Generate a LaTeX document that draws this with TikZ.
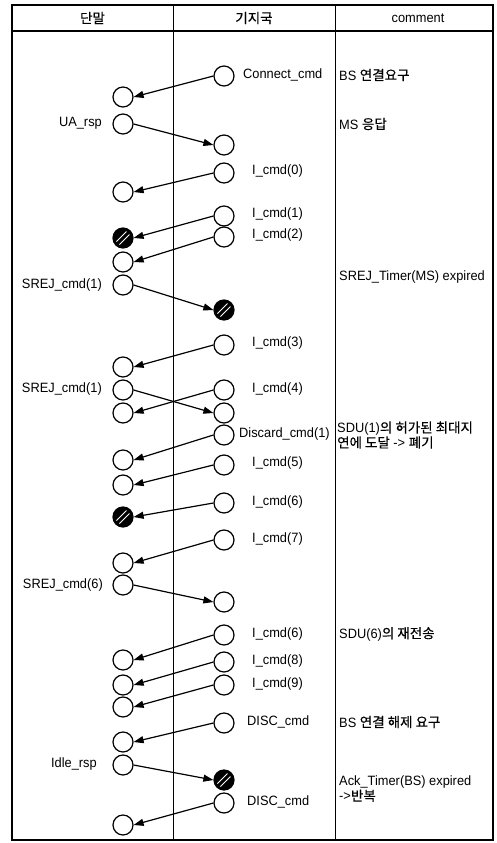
\documentclass[tikz,border=0pt]{standalone}
\usepackage{fontspec}
\setmainfont{Liberation Sans}[FakeStretch=0.95]
\newfontfamily\kr{Noto Sans CJK KR}[FakeBold=0.3]
\usetikzlibrary{arrows.meta}
\begin{document}
\begin{tikzpicture}[x=1pt,y=-1pt,
  stnode/.style={circle,draw,line width=1.2pt,minimum size=20pt,inner sep=0pt},
  lostnode/.style={stnode,fill=black,path picture={
     \draw[white,line width=0.9pt] ([shift={(-6.5,3.5)}]path picture bounding box.center) -- ++(10,-10);
     \draw[white,line width=0.9pt] ([shift={(-3.5,6.5)}]path picture bounding box.center) -- ++(10,-10);}},
  msgline/.style={line width=1.2pt,-{Triangle[length=10pt,width=7pt]}},
  txtnode/.style={inner sep=0pt,font=\fontsize{13.5}{15}\selectfont},
  rlab/.style={txtnode,anchor=west},
  llab/.style={txtnode,anchor=east},
  cmtnode/.style={txtnode,anchor=west,align=left},
  frameline/.style={line width=1.1pt}]
\fill[white] (0,0) rectangle (497,843);
\useasboundingbox (0,0) rectangle (497,843);
% table
\draw[frameline] (12,5) rectangle (493,840);
\draw[frameline] (12,31) -- (493,31);
\draw[line width=1pt] (173,5) -- (173,840);
\draw[line width=1pt] (335,5) -- (335,840);
\node[txtnode] (h1) at (92.5,18) {\kr 단말};
\node[txtnode] (h2) at (254,18) {\kr 기지국};
\node[txtnode] (h3) at (418,18) {comment};
% left column states
\node[stnode] (L1) at (123,97) {};
\node[stnode] (L2) at (123,124) {};
\node[stnode] (L3) at (123,192) {};
\node[lostnode] (L4) at (123,238) {};
\node[stnode] (L5) at (123,262) {};
\node[stnode] (L6) at (123,285) {};
\node[stnode] (L7) at (123,367) {};
\node[stnode] (L8) at (123,390) {};
\node[stnode] (L9) at (123,413) {};
\node[stnode] (L10) at (123,460) {};
\node[stnode] (L11) at (123,485) {};
\node[lostnode] (L12) at (123,517) {};
\node[stnode] (L13) at (123,563) {};
\node[stnode] (L14) at (123,585) {};
\node[stnode] (L15) at (123,660) {};
\node[stnode] (L16) at (123,685) {};
\node[stnode] (L17) at (123,707) {};
\node[stnode] (L18) at (123,742) {};
\node[stnode] (L19) at (123,765) {};
\node[stnode] (L20) at (123,825) {};
% right column states
\node[stnode] (R1) at (224,76) {};
\node[stnode] (R2) at (224,145) {};
\node[stnode] (R3) at (224,173) {};
\node[stnode] (R4) at (224,216) {};
\node[stnode] (R5) at (224,237) {};
\node[lostnode] (R6) at (224,310) {};
\node[stnode] (R7) at (224,345) {};
\node[stnode] (R8) at (224,390) {};
\node[stnode] (R9) at (224,413) {};
\node[stnode] (R10) at (224,435) {};
\node[stnode] (R11) at (224,465) {};
\node[stnode] (R12) at (224,503) {};
\node[stnode] (R13) at (224,540) {};
\node[stnode] (R14) at (224,602) {};
\node[stnode] (R15) at (224,635) {};
\node[stnode] (R16) at (224,662) {};
\node[stnode] (R17) at (224,685) {};
\node[stnode] (R18) at (224,723) {};
\node[lostnode] (R19) at (224,780) {};
\node[stnode] (R20) at (224,803) {};
% right labels
\node[rlab] (t1) at (243,75) {Connect\_cmd};
\node[rlab] (t3) at (252,171) {I\_cmd(0)};
\node[rlab] (t4) at (252,214) {I\_cmd(1)};
\node[rlab] (t5) at (252,235) {I\_cmd(2)};
\node[rlab] (t7) at (252,343) {I\_cmd(3)};
\node[rlab] (t8) at (252,389) {I\_cmd(4)};
\node[rlab] (t10) at (239,434) {Discard\_cmd(1)};
\node[rlab] (t11) at (252,463) {I\_cmd(5)};
\node[rlab] (t12) at (252,502) {I\_cmd(6)};
\node[rlab] (t13) at (252,539) {I\_cmd(7)};
\node[rlab] (t15) at (252,634) {I\_cmd(6)};
\node[rlab] (t16) at (252,661) {I\_cmd(8)};
\node[rlab] (t17) at (252,684) {I\_cmd(9)};
\node[rlab] (t18) at (247,722) {DISC\_cmd};
\node[rlab] (t20) at (247,802) {DISC\_cmd};
% left labels
\node[llab] (u2) at (102,123) {UA\_rsp};
\node[llab] (u6) at (102,285) {SREJ\_cmd(1)};
\node[llab] (u8) at (102,389) {SREJ\_cmd(1)};
\node[llab] (u14) at (103,585) {SREJ\_cmd(6)};
\node[llab] (u19) at (97,764) {Idle\_rsp};
% comments
\node[cmtnode] (c1) at (339,75) {BS {\kr 연결요구}};
\node[cmtnode] (c2) at (339,124) {MS {\kr 응답}};
\node[cmtnode] (c3) at (339,277) {SREJ\_Timer(MS) expired};
\node[cmtnode] (c4) at (337,435) {SDU(1){\kr 의 허가된 최대지}\\{\kr 연에 도달} -> {\kr 폐기}};
\node[cmtnode] (c5) at (339,634) {SDU(6){\kr 의 재전송}};
\node[cmtnode] (c6) at (339,722) {BS {\kr 연결 해제 요구}};
\node[cmtnode] (c7) at (339,789) {Ack\_Timer(BS) expired\\->{\kr 반복}};
% messages
\draw[msgline] (R1.west) -- (L1.east);
\draw[msgline] (L2.east) -- (R2.west);
\draw[msgline] (R3.west) -- (L3.east);
\draw[msgline] (R4.west) -- (L4.east);
\draw[msgline] (R5.west) -- (L5.east);
\draw[msgline] (L6.east) -- (R6.west);
\draw[msgline] (R7.west) -- (L7.east);
\draw[msgline] (L8.east) -- (R9.west);
\draw[msgline] (R8.west) -- (L9.east);
\draw[msgline] (R10.west) -- (L10.east);
\draw[msgline] (R11.west) -- (L11.east);
\draw[msgline] (R12.west) -- (L12.east);
\draw[msgline] (R13.west) -- (L13.east);
\draw[msgline] (L14.east) -- (R14.west);
\draw[msgline] (R15.west) -- (L15.east);
\draw[msgline] (R16.west) -- (L16.east);
\draw[msgline] (R17.west) -- (L17.east);
\draw[msgline] (R18.west) -- (L18.east);
\draw[msgline] (L19.east) -- (R19.west);
\draw[msgline] (R20.west) -- (L20.east);
\end{tikzpicture}
\end{document}
